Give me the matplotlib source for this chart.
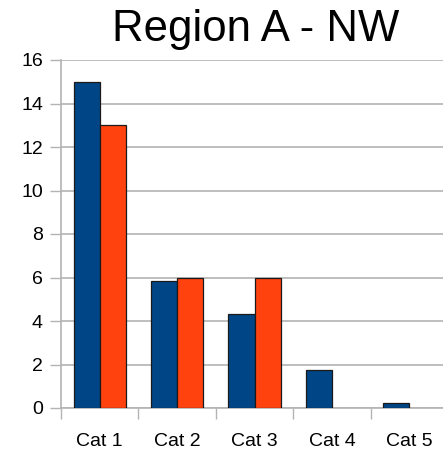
import numpy as np
import matplotlib.pyplot as plt

plt.rcParams['font.family'] = ['Liberation Sans', 'DejaVu Sans']

categories = ['Cat 1', 'Cat 2', 'Cat 3', 'Cat 4', 'Cat 5']
series_a = [15, 5.85, 4.3, 1.75, 0.25]
series_b = [13, 6, 6, 0, 0]
y_ticks = [0, 2, 4, 6, 8, 10, 12, 14, 16]

grid_grey = '#b3b3b3'
dpi = 100
fig = plt.figure(figsize=(443 / dpi, 453 / dpi), dpi=dpi)
ax = fig.add_axes([61 / 443, 45 / 453, 387 / 443, 348 / 453])

x = np.arange(len(categories))
w = 0.336
for offset, vals, col in [(-w / 2, series_a, '#004586'), (w / 2, series_b, '#ff420e')]:
    # empty values get no outline
    edges = ['#1a1a1a' if v > 0 else 'none' for v in vals]
    ax.bar(x + offset, vals, w, color=col, edgecolor=edges, linewidth=0.9, zorder=3)

ax.set_xlim(-0.5, len(categories) - 0.5)
ax.set_ylim(0, 16)
ax.set_yticks(y_ticks)
ax.yaxis.grid(True, color=grid_grey, linewidth=1.2, zorder=0)

# category boundaries carry the tick marks, labels sit between them
ax.set_xticks(np.arange(-0.5, len(categories), 1.0))
ax.set_xticklabels([])
ax.set_xticks(x, minor=True)
ax.set_xticklabels(categories, minor=True)
ax.tick_params(axis='x', which='major', length=8, color=grid_grey, width=1)
ax.tick_params(axis='x', which='minor', length=0, pad=18, labelsize=14)
ax.tick_params(axis='y', length=8, color=grid_grey, width=1, pad=5, labelsize=14)

for s in ['top', 'right']:
    ax.spines[s].set_visible(False)
for s in ['left', 'bottom']:
    ax.spines[s].set_color(grid_grey)
    ax.spines[s].set_linewidth(1.2)

fig.text(256 / 443, 1 - 29 / 453, 'Region A - NW', ha='center', va='center', fontsize=31.5)

fig.savefig('out.png', dpi=dpi)
